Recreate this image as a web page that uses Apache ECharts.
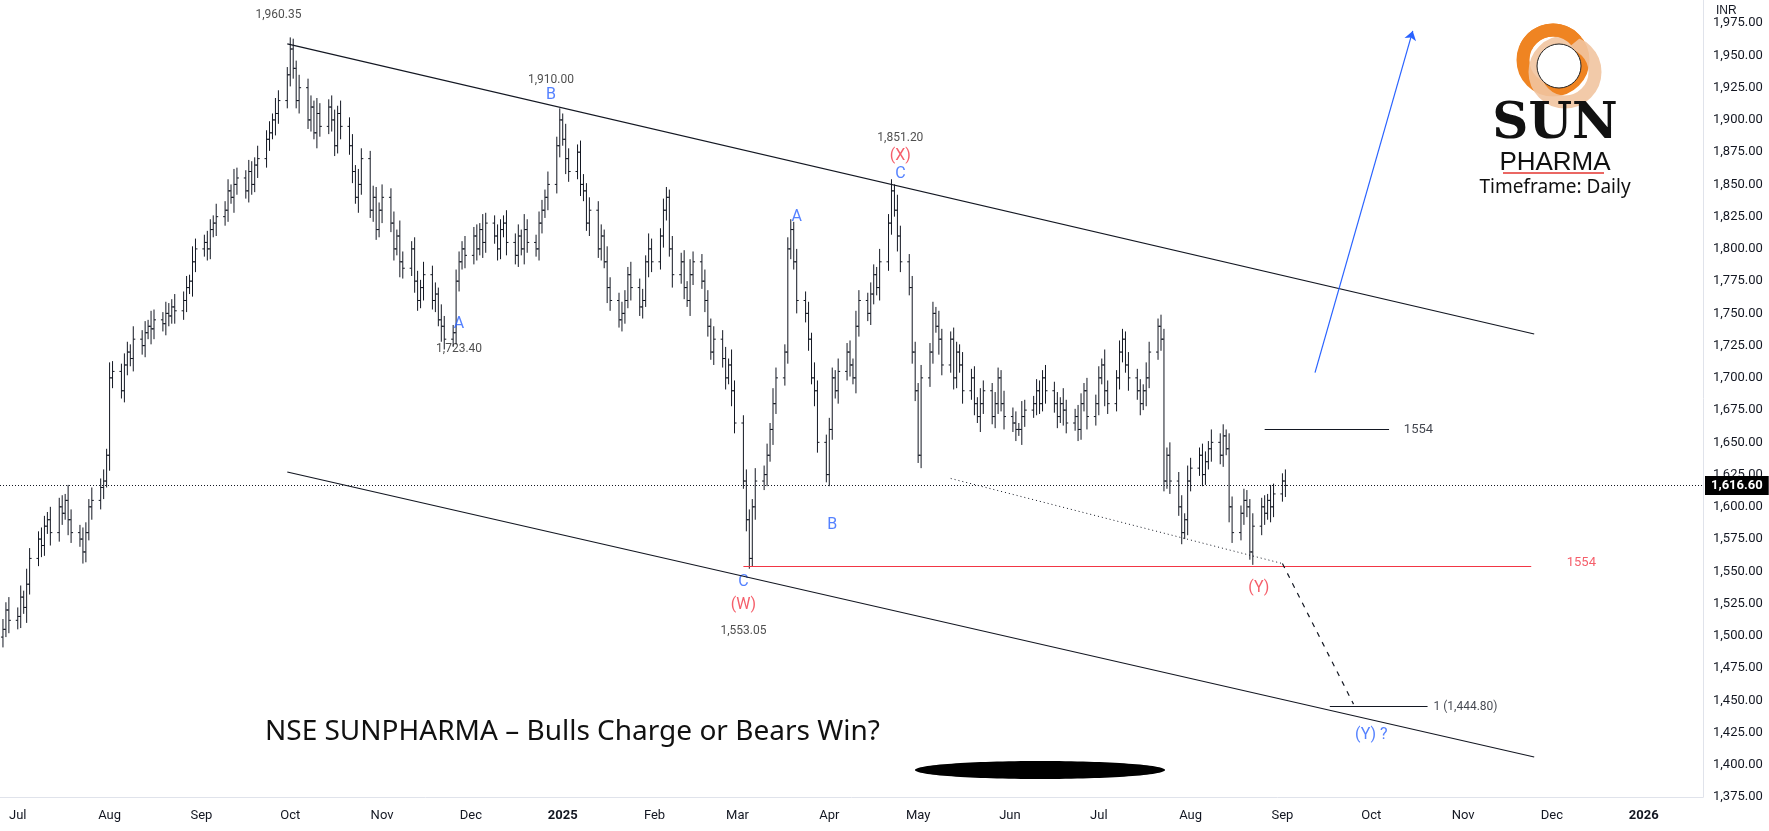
<!DOCTYPE html>
<html>
<head>
<meta charset="utf-8">
<script src="https://cdn.jsdelivr.net/npm/echarts@6/dist/echarts.min.js"></script>
<style>html,body{margin:0;padding:0;background:#fff}#chart{width:1769px;height:831px}</style>
</head>
<body>
<div id="chart"></div>
<script>
// daily closes, first bar 2024-06-26
var startDay = '2024-06-26';
var closes = [
  1505,1520,1512,
  1515,1530,1522,1540,1560,1575,1570,1585,1590,1580,1600,1595,1605,1590,1580,1575,1565,1580,1600,1605,1615,1620,1640,
  1700,1705,1690,1710,1720,1715,1730,1725,1735,1740,1738,1745,1742,1750,1748,1755,1752,1760,1770,1775,1790,1800,
  1805,1800,1815,1820,1825,1830,1845,1840,1850,1855,1845,1860,1850,1865,1870,1885,1890,1900,1905,1915,1935,
  1955,1940,1915,1925,1900,1910,1890,1905,1895,1910,1900,1880,1905,1895,1880,1860,1840,1850,1870,1830,1840,1815,1830,
  1840,1820,1800,1810,1790,1785,1800,1775,1760,1770,1780,1760,1765,1745,1740,1730,1735,1775,1790,1800,1795,
  1810,1800,1815,1805,1820,1810,1800,1815,1820,1805,1795,1810,1800,1815,1805,1800,1820,1830,1840,1850,1880,1900,
  1885,1870,1860,1875,1850,1845,1820,1830,1800,1810,1790,1770,1760,1745,1750,1760,1780,1770,1755,1760,1790,1800,1790,
  1810,1830,1840,1800,1780,1790,1770,1760,1780,1790,1775,1760,1740,1720,1730,1715,1700,1710,1690,1665,
  1620,1590,1560,1600,1620,1625,1640,1660,1680,1700,1720,1800,1815,
  1790,1760,1750,1730,1700,1690,1650,1625,1660,1700,1690,1705,1720,1710,1700,1740,1760,1750,1765,1780,1770,1790,1820,1845,
  1830,1810,1790,1770,1720,1690,1640,
  1700,1720,1750,1740,1730,1710,1730,1700,1720,1710,1690,1700,1680,1670,
  1680,1690,1670,1680,1700,1680,1670,1665,1660,1660,1670,1675,1680,1690,1680,1700,1690,1680,1670,1680,1675,
  1665,1670,1660,1680,1690,1670,1680,1700,1710,1690,1680,1700,1720,1730,1710,1700,1690,1680,1690,1700,1720,1740,1730,
  1620,1640,1620,1600,1580,1590,1620,1630,1640,1625,1635,1645,1650,1640,1655,1645,1600,1580,1595,1605,1600,
  1565,1585,1600,1595,1605,1600,1610,1620,1616.6
];
var wicks = [8,6,10,7,9,5,12,8,6,9];

var waveLabels = [
  ['2024-09-27',1981,'1,960.35','#222'],
  ['2024-12-28',1931,'1,910.00','#222'],
  ['2024-12-28',1919,'B','#2962ff'],
  ['2025-04-25',1886,'1,851.20','#222'],
  ['2025-04-25',1872,'(X)','#f23645'],
  ['2025-04-25',1858,'C','#2962ff'],
  ['2025-03-21',1825,'A','#2962ff'],
  ['2024-11-27',1742,'A','#2962ff'],
  ['2024-11-27',1722,'1,723.40','#222'],
  ['2025-04-02',1586,'B','#2962ff'],
  ['2025-03-03',1542,'C','#2962ff'],
  ['2025-03-03',1524,'(W)','#f23645'],
  ['2025-03-03',1504,'1,553.05','#222'],
  ['2025-08-24',1537,'(Y)','#f23645'],
  ['2025-10-01',1423,'(Y) ?','#2962ff']
];

function fmt(d){return d.toISOString().slice(0,10);}
var ohlc = [];
var d = new Date(startDay + 'T00:00:00Z');
for (var i = 0; i < closes.length; i++) {
  while (d.getUTCDay() === 0 || d.getUTCDay() === 6) d.setUTCDate(d.getUTCDate() + 1);
  var o = i ? closes[i-1] : closes[0] - 6;
  var c = closes[i];
  var w = wicks[i % wicks.length];
  ohlc.push([fmt(d), o, c, Math.min(o,c) - w, Math.max(o,c) + w]);
  d.setUTCDate(d.getUTCDate() + 1);
}

var myChart = echarts.init(document.getElementById('chart'));
var lineBlack = {color:'#131722', width:1.2, type:'solid'};
var option = {
  animation: false,
  backgroundColor: '#fff',
  textStyle: {fontFamily: 'Roboto'},
  grid: {left: 0, right: 66, top: 0, bottom: 34},
  xAxis: {
    type: 'time', min: '2024-06-25', max: '2026-01-21', splitNumber: 20,
    axisLine: {show: true, lineStyle: {color: '#e0e3eb'}},
    axisTick: {show: false}, splitLine: {show: false},
    axisLabel: {color: '#131722', fontSize: 13, margin: 12, hideOverlap: false}
  },
  yAxis: {
    type: 'value', position: 'right', min: 1375, max: 1993, interval: 25,
    axisLine: {show: true, lineStyle: {color: '#e0e3eb'}},
    splitLine: {show: false}, axisTick: {show: false},
    axisLabel: {color: '#131722', fontSize: 13, margin: 10, showMaxLabel: false,
      formatter: function(v){return v.toLocaleString('en-US',{minimumFractionDigits:2});}}
  },
  series: [
    {
      type: 'custom', data: ohlc, encode: {x: 0, y: [1,2,3,4]},
      renderItem: function(params, api) {
        var x = api.coord([api.value(0), 0])[0];
        var o = api.coord([api.value(0), api.value(1)])[1];
        var c = api.coord([api.value(0), api.value(2)])[1];
        var l = api.coord([api.value(0), api.value(3)])[1];
        var h = api.coord([api.value(0), api.value(4)])[1];
        var st = {stroke: '#131722', lineWidth: 1};
        return {type: 'group', children: [
          {type: 'line', shape: {x1: x, y1: h, x2: x, y2: l}, style: st},
          {type: 'line', shape: {x1: x - 2, y1: o, x2: x, y2: o}, style: st},
          {type: 'line', shape: {x1: x, y1: c, x2: x + 2, y2: c}, style: st}
        ]};
      },
      markLine: {
        symbol: 'none', silent: true, label: {show: false},
        data: [
          [{coord: ['2024-09-30',1959], lineStyle: lineBlack}, {coord: ['2025-11-25',1734]}],
          [{coord: ['2024-09-30',1627], lineStyle: lineBlack}, {coord: ['2025-11-25',1406]}],
          [{coord: ['2025-03-03',1554], lineStyle: {color:'#f23645',width:1.2,type:'solid'}}, {coord: ['2025-11-24',1554]}],
          [{coord: ['2025-08-26',1660], lineStyle: lineBlack}, {coord: ['2025-10-07',1660]}],
          [{coord: ['2025-05-12',1622], lineStyle: {color:'#131722',width:1,type:[1,3]}}, {coord: ['2025-09-01',1556]}],
          [{coord: ['2025-09-01',1556], lineStyle: {color:'#131722',width:1.2,type:[5,6]}}, {coord: ['2025-09-25',1447]}],
          [{coord: ['2025-09-17',1445], lineStyle: lineBlack}, {coord: ['2025-10-20',1445]}],
          [{coord: ['2025-09-12',1704], symbol: 'none', lineStyle: {color:'#2962ff',width:1.2,type:'solid'}},
           {coord: ['2025-10-15',1969], symbol: 'arrow', symbolSize: 9}],
          [{yAxis: 1616.6, x: 0, lineStyle: {color:'#131722',width:1,type:[1,2]},
            label: {show: true, position: 'end', formatter: '1,616.60', color: '#fff', backgroundColor: '#000',
              fontSize: 13, fontWeight: 'bold', padding: [3,6], distance: 2}},
           {yAxis: 1616.6, x: 1703}]
        ]
      }
    },
    {
      type: 'scatter', symbolSize: 0,
      data: waveLabels.map(function(r){return {value: [r[0], r[1]], name: r[2],
        label: {color: r[3], fontSize: /\d,/.test(r[2]) ? 12 : 16}};}),
      label: {show: true, position: 'inside', formatter: '{b}'}
    },
    {
      type: 'scatter', symbolSize: 0,
      data: [
        {value: ['2025-10-12',1660], name: '1554', label: {color: '#131722'}},
        {value: ['2025-12-06',1557], name: '1554', label: {color: '#f23645'}},
        {value: ['2025-10-22',1445], name: '1 (1,444.80)', label: {color: '#131722', fontSize: 12}}
      ],
      label: {show: true, position: 'right', formatter: '{b}', fontSize: 13, distance: 0}
    }
  ],
  graphic: [
    {type: 'text', left: 1716, top: 5, style: {text: 'INR', fontSize: 12, fill: '#131722'}},
    {type: 'circle', shape: {cx: 1553, cy: 60, r: 30}, style: {fill: 'none', stroke: '#ef8422', lineWidth: 13}},
    {type: 'circle', shape: {cx: 1565, cy: 72, r: 30}, style: {fill: 'none', stroke: 'rgba(241,196,160,0.9)', lineWidth: 13}},
    {type: 'arc', shape: {cx: 1553, cy: 60, r: 30, startAngle: 3.6, endAngle: 5.6}, style: {stroke: '#ef8422', lineWidth: 13, fill: 'none'}},
    {type: 'circle', shape: {cx: 1559, cy: 66, r: 22}, style: {fill: '#fff', stroke: '#222', lineWidth: 1}},
    {type: 'text', x: 1555, y: 100, style: {text: 'SUN', fontFamily: 'DejaVu Serif', fontWeight: 'bold', fontSize: 50, fill: '#111', align: 'center'}},
    {type: 'text', x: 1555, y: 150, style: {text: 'PHARMA', fontFamily: 'Liberation Sans', fontSize: 26, fill: '#111', align: 'center'}},
    {type: 'line', shape: {x1: 1503, y1: 173, x2: 1604, y2: 173}, style: {stroke: '#e3342f', lineWidth: 1.5}},
    {type: 'text', x: 1555, y: 178, style: {text: 'Timeframe: Daily', fontFamily: 'Noto Sans', fontSize: 19, fill: '#111', align: 'center'}},
    {type: 'text', x: 265, y: 718, style: {text: 'NSE SUNPHARMA – Bulls Charge or Bears Win?', fontFamily: 'Noto Sans', fontSize: 28, fill: '#111'}},
    {type: 'ellipse', shape: {cx: 1040, cy: 770, rx: 125, ry: 9}, style: {fill: '#000'}}
  ]
};
myChart.setOption(option);
</script>
</body>
</html>
